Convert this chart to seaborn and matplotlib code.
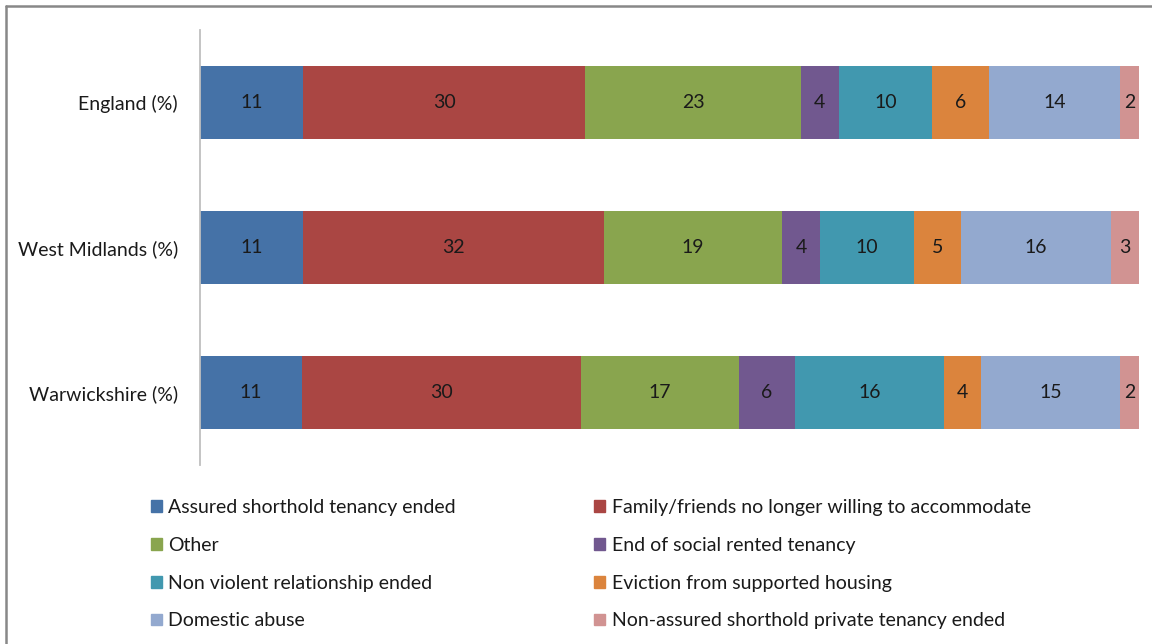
import matplotlib
matplotlib.use("Agg")
import matplotlib.pyplot as plt
import matplotlib.patches as mpatches
import numpy as np
import pandas as pd
import seaborn as sns

regions = ["England (%)", "West Midlands (%)", "Warwickshire (%)"]

reasons = [
    "Assured shorthold tenancy ended",
    "Family/friends no longer willing to accommodate",
    "Other",
    "End of social rented tenancy",
    "Non violent relationship ended",
    "Eviction from supported housing",
    "Domestic abuse",
    "Non-assured shorthold private tenancy ended",
]

england = [11, 30, 23, 4, 10, 6, 14, 2]
west_midlands = [11, 32, 19, 4, 10, 5, 16, 3]
warwickshire = [11, 30, 17, 6, 16, 4, 15, 2]

colors = ["#4572A7", "#AA4643", "#89A54E", "#71588F",
          "#4198AF", "#DB843D", "#93A9CF", "#D19392"]

sns.set_theme(style="white")
plt.rcParams["font.family"] = ["Lato", "DejaVu Sans"]

FS = 14

values = np.array([england, west_midlands, warwickshire], dtype=float)
# 100% stacked: each row's segments as a share of its total
shares = values / values.sum(axis=1, keepdims=True) * 100
cum = np.cumsum(shares, axis=1)

fig = plt.figure(figsize=(11.52, 6.44), dpi=100)
ax = fig.add_axes([200 / 1152, 1 - 465 / 644, 939 / 1152, 435 / 644])

# Draw the widest cumulative layer first so each narrower one sits on top
for j in range(len(reasons) - 1, -1, -1):
    df = pd.DataFrame({"region": regions, "end": cum[:, j]})
    sns.barplot(data=df, x="end", y="region", orient="h", color=colors[j],
                width=0.51, saturation=1, ax=ax, linewidth=0)

for i in range(len(regions)):
    for j in range(len(reasons)):
        ax.text(cum[i, j] - shares[i, j] / 2, i, f"{int(values[i, j])}",
                ha="center", va="center", fontsize=FS, color="#1a1a1a")

ax.set_xlim(0, 100)
ax.set_ylim(2.5, -0.5)
ax.set_xlabel("")
ax.set_ylabel("")
ax.set_xticks([])
ax.tick_params(axis="y", length=0, pad=16, labelsize=FS, labelcolor="#1a1a1a")
for side in ["top", "right", "bottom"]:
    ax.spines[side].set_visible(False)
ax.spines["left"].set_color("#bfbfbf")
ax.spines["left"].set_linewidth(1.3)

# Legend filled row by row: reorder handles for column-major layout
handles = [mpatches.Patch(color=c, label=r) for c, r in zip(colors, reasons)]
order = [0, 2, 4, 6, 1, 3, 5, 7]
leg = fig.legend([handles[k] for k in order], [reasons[k] for k in order],
                 ncol=2, loc="upper left", bbox_to_anchor=(151 / 1152, 1 - 499 / 644),
                 frameon=False, fontsize=FS, handlelength=0.55, handleheight=0.55,
                 handletextpad=0.35, columnspacing=7.1, labelspacing=1.07,
                 borderaxespad=0, borderpad=0)
for t in leg.get_texts():
    t.set_color("#1a1a1a")

# Chart area border along the top and left edges
fig.add_artist(plt.Line2D([6 / 1152, 6 / 1152], [0, 1 - 6 / 644],
                          transform=fig.transFigure, color="#888888", linewidth=1.8))
fig.add_artist(plt.Line2D([6 / 1152, 1], [1 - 6 / 644, 1 - 6 / 644],
                          transform=fig.transFigure, color="#888888", linewidth=1.8))

fig.savefig("out.png", dpi=100, facecolor="white")
